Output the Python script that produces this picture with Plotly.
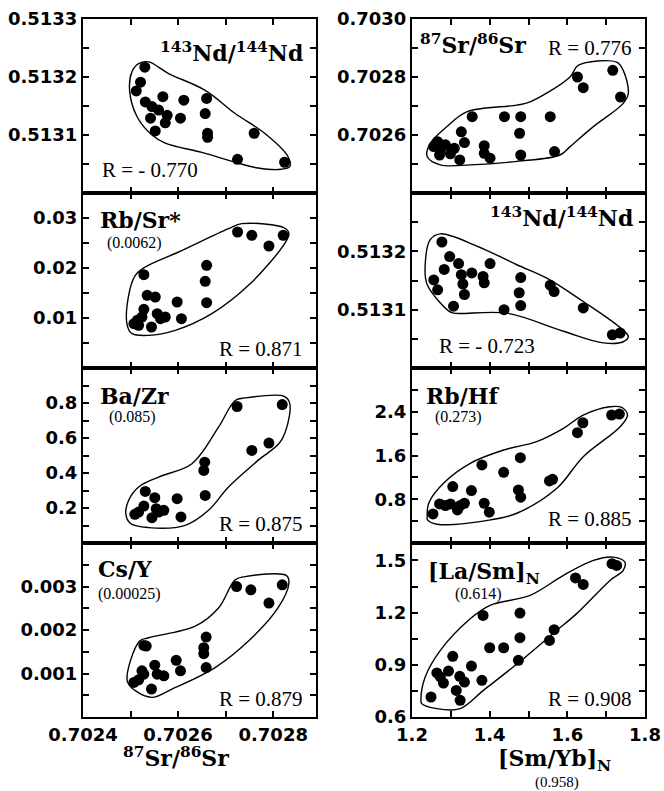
import plotly.graph_objects as go

W, H = 664, 791

# ---------------- Left column (x = 87Sr/86Sr) ----------------
# Panel L1: 143Nd/144Nd
l1_x = [0.70253, 0.702521, 0.702512, 0.702531, 0.702545, 0.702568, 0.702612, 0.70266, 0.702559, 0.702577,
        0.702542, 0.702573, 0.702605, 0.702657, 0.702552, 0.702662, 0.702662, 0.70276, 0.702725, 0.702824]
l1_y = [0.513217, 0.513191, 0.513176, 0.513157, 0.513149, 0.513166, 0.51316, 0.513163, 0.513143, 0.513134,
        0.513129, 0.513121, 0.513129, 0.513137, 0.513107, 0.513103, 0.513096, 0.513103, 0.513058, 0.513053]
l1_env_x = [0.702517, 0.702538, 0.70258, 0.702657, 0.70272, 0.702782, 0.702831, 0.702835, 0.702817, 0.702768,
            0.70272, 0.70265, 0.702573, 0.702545, 0.702514, 0.702498, 0.702503, 0.702517]
l1_env_y = [0.513223, 0.513226, 0.513206, 0.513177, 0.513137, 0.513103, 0.513063, 0.513046, 0.513041, 0.513043,
            0.513053, 0.51307, 0.513086, 0.5131, 0.513131, 0.513177, 0.513209, 0.513223]

# Panel L2: Rb/Sr*
l2_x = [0.702528, 0.702535, 0.702552, 0.702528, 0.702507, 0.702514, 0.702524, 0.702544, 0.702556, 0.702563,
        0.702573, 0.702598, 0.702607, 0.70266, 0.702657, 0.70266, 0.702725, 0.702755, 0.702791, 0.702821, 0.702517]
l2_y = [0.01867, 0.01453, 0.0142, 0.01173, 0.00887, 0.00953, 0.0102, 0.0082, 0.01087, 0.00987,
        0.0102, 0.0132, 0.00987, 0.02053, 0.01733, 0.01307, 0.0272, 0.02653, 0.0244, 0.02653, 0.00853]
l2_env_x = [0.70251, 0.702531, 0.702601, 0.702706, 0.702734, 0.702824, 0.702833, 0.702824, 0.702748, 0.702671,
            0.702594, 0.702538, 0.702503, 0.702493, 0.702496, 0.70251]
l2_env_y = [0.01853, 0.0202, 0.0232, 0.02787, 0.02887, 0.028, 0.02687, 0.02487, 0.01653, 0.01087,
            0.00753, 0.00653, 0.00687, 0.00853, 0.01453, 0.01853]

# Panel L3: Ba/Zr
l3_x = [0.702531, 0.702551, 0.702528, 0.702509, 0.702517, 0.702545, 0.702554, 0.70257, 0.702559, 0.702598,
        0.702606, 0.702656, 0.702654, 0.702657, 0.702724, 0.702819, 0.702755, 0.702791]
l3_y = [0.295, 0.259, 0.211, 0.164, 0.177, 0.145, 0.196, 0.187, 0.177, 0.253,
        0.149, 0.462, 0.415, 0.272, 0.78, 0.791, 0.529, 0.571]
l3_env_x = [0.702496, 0.702517, 0.702559, 0.702629, 0.702685, 0.70272, 0.702741, 0.702824, 0.702835, 0.702817,
            0.702768, 0.702706, 0.702664, 0.702615, 0.702538, 0.7025, 0.70249, 0.702496]
l3_env_y = [0.244, 0.32, 0.377, 0.453, 0.662, 0.814, 0.829, 0.837, 0.795, 0.586,
            0.472, 0.32, 0.187, 0.101, 0.088, 0.111, 0.168, 0.244]

# Panel L4: Cs/Y
l4_x = [0.702528, 0.702533, 0.702524, 0.702528, 0.702507, 0.702517, 0.702551, 0.702556, 0.70257, 0.702544,
        0.702596, 0.702605, 0.702659, 0.702654, 0.702654, 0.702659, 0.702723, 0.702753, 0.702819, 0.702791]
l4_y = [0.001646, 0.001631, 0.001061, 0.000985, 0.000795, 0.000856, 0.00119, 0.000985, 0.000947, 0.000643,
        0.001304, 0.001061, 0.001837, 0.001593, 0.001456, 0.001137, 0.002999, 0.002924, 0.003038, 0.00262]
l4_env_x = [0.702493, 0.702519, 0.702538, 0.702636, 0.702685, 0.70272, 0.702741, 0.702828, 0.702833, 0.70281,
            0.702748, 0.702678, 0.702587, 0.702545, 0.70251, 0.702493]
l4_env_y = [0.000833, 0.001745, 0.001821, 0.002087, 0.002506, 0.003152, 0.003228, 0.003251, 0.003076, 0.002506,
            0.001745, 0.001137, 0.000643, 0.000452, 0.000605, 0.000833]

# ---------------- Right column (x = [Sm/Yb]N) ----------------
# Panel R1: 87Sr/86Sr
r1_x = [1.266, 1.256, 1.273, 1.286, 1.299, 1.309, 1.323, 1.327, 1.335, 1.355, 1.386, 1.386,
        1.401, 1.438, 1.48, 1.477, 1.48, 1.556, 1.567, 1.626, 1.641, 1.717, 1.737, 1.271]
r1_y = [0.702577, 0.70256, 0.702549, 0.702566, 0.702535, 0.702554, 0.702514, 0.702611, 0.702574, 0.702663,
        0.702563, 0.702537, 0.70252, 0.702663, 0.702663, 0.702606, 0.702531, 0.702663, 0.702543, 0.7028,
        0.702763, 0.702823, 0.702731, 0.702531]
r1_env_x = [1.239, 1.247, 1.29, 1.341, 1.47, 1.504, 1.607, 1.628, 1.727, 1.744, 1.757, 1.744,
            1.667, 1.607, 1.581, 1.47, 1.35, 1.273, 1.239]
r1_env_y = [0.702526, 0.702571, 0.702629, 0.70268, 0.702703, 0.702714, 0.7028, 0.70284, 0.702851, 0.702823,
            0.702743, 0.702709, 0.702629, 0.70256, 0.702531, 0.702509, 0.702497, 0.702497, 0.702526]

# Panel R2: 143Nd/144Nd
r2_x = [1.277, 1.297, 1.283, 1.256, 1.266, 1.32, 1.327, 1.331, 1.335, 1.354, 1.383, 1.386,
        1.401, 1.307, 1.437, 1.48, 1.476, 1.48, 1.556, 1.566, 1.641, 1.716, 1.736]
r2_y = [0.513216, 0.513191, 0.513169, 0.513151, 0.513134, 0.513179, 0.51316, 0.513144, 0.513126, 0.513163,
        0.513157, 0.513146, 0.513179, 0.513106, 0.5131, 0.513155, 0.513129, 0.513107, 0.513142, 0.513131,
        0.513103, 0.513057, 0.51306]
r2_env_x = [1.247, 1.273, 1.367, 1.47, 1.547, 1.641, 1.727, 1.757, 1.744, 1.693, 1.59, 1.444,
            1.307, 1.294, 1.239, 1.234, 1.247]
r2_env_y = [0.51322, 0.51323, 0.513209, 0.513177, 0.513154, 0.513114, 0.513074, 0.513054, 0.513045, 0.513043,
            0.513063, 0.513094, 0.513094, 0.513098, 0.513143, 0.513177, 0.51322]

# Panel R3: Rb/Hf
r3_x = [1.254, 1.271, 1.286, 1.299, 1.317, 1.324, 1.335, 1.305, 1.353, 1.38, 1.386, 1.399,
        1.436, 1.479, 1.474, 1.48, 1.554, 1.562, 1.626, 1.64, 1.714, 1.734]
r3_y = [0.532, 0.715, 0.684, 0.715, 0.605, 0.684, 0.727, 1.031, 0.958, 1.427, 0.727, 0.563,
        1.293, 1.56, 0.97, 0.837, 1.135, 1.165, 2.017, 2.199, 2.339, 2.358]
r3_env_x = [1.239, 1.243, 1.281, 1.35, 1.436, 1.521, 1.59, 1.641, 1.71, 1.74, 1.755, 1.736,
            1.641, 1.573, 1.47, 1.402, 1.264, 1.24, 1.239]
r3_env_y = [0.484, 0.727, 1.092, 1.457, 1.7, 1.853, 2.096, 2.339, 2.491, 2.479, 2.339, 2.126,
            1.579, 1.0, 0.544, 0.423, 0.344, 0.423, 0.484]

# Panel R4: [La/Sm]N
r4_x = [1.249, 1.264, 1.273, 1.281, 1.294, 1.305, 1.314, 1.324, 1.323, 1.335, 1.353, 1.38,
        1.383, 1.4, 1.436, 1.474, 1.478, 1.478, 1.554, 1.566, 1.621, 1.641, 1.715, 1.727]
r4_y = [0.715, 0.853, 0.83, 0.795, 0.864, 0.949, 0.753, 0.696, 0.834, 0.801, 0.893, 0.811,
        1.184, 0.998, 0.998, 0.926, 1.056, 1.197, 1.04, 1.102, 1.399, 1.362, 1.481, 1.471]
r4_env_x = [1.223, 1.234, 1.273, 1.35, 1.401, 1.504, 1.59, 1.667, 1.718, 1.748, 1.744, 1.71,
            1.624, 1.573, 1.487, 1.384, 1.324, 1.264, 1.225, 1.223]
r4_env_y = [0.705, 0.83, 0.983, 1.165, 1.242, 1.299, 1.414, 1.5, 1.519, 1.491, 1.443, 1.385,
            1.194, 1.098, 0.935, 0.753, 0.648, 0.648, 0.677, 0.705]

# ---------------- Axis ticks ----------------
left_x_range = [0.70240, 0.70289]
left_x_ticks = [0.7024, 0.7025, 0.7026, 0.7027, 0.7028]
left_x_labels = ["0.7024", "", "0.7026", "", "0.7028"]
right_x_range = [1.2, 1.8]
right_x_ticks = [1.2, 1.3, 1.4, 1.5, 1.6, 1.7, 1.8]
right_x_labels = ["1.2", "", "1.4", "", "1.6", "", "1.8"]

l1_yr, l1_yt, l1_yl = [0.5130, 0.5133], [0.51305, 0.5131, 0.51315, 0.5132, 0.51325, 0.5133], ["", "0.5131", "", "0.5132", "", "0.5133"]
l2_yr, l2_yt, l2_yl = [0, 0.035], [0.005, 0.01, 0.015, 0.02, 0.025, 0.03], ["", "0.01", "", "0.02", "", "0.03"]
l3_yr, l3_yt, l3_yl = [0, 1.0], [0.1, 0.2, 0.3, 0.4, 0.5, 0.6, 0.7, 0.8, 0.9], ["", "0.2", "", "0.4", "", "0.6", "", "0.8", ""]
l4_yr, l4_yt, l4_yl = [0, 0.004], [0.0005, 0.001, 0.0015, 0.002, 0.0025, 0.003, 0.0035], ["", "0.001", "", "0.002", "", "0.003", ""]
r1_yr, r1_yt, r1_yl = [0.7024, 0.7030], [0.7025, 0.7026, 0.7027, 0.7028, 0.7029, 0.7030], ["", "0.7026", "", "0.7028", "", "0.7030"]
r2_yr, r2_yt, r2_yl = [0.5130, 0.5133], [0.51305, 0.5131, 0.51315, 0.5132, 0.51325], ["", "0.5131", "", "0.5132", ""]
r3_yr, r3_yt, r3_yl = [0, 3.2], [0.4, 0.8, 1.2, 1.6, 2.0, 2.4, 2.8], ["", "0.8", "", "1.6", "", "2.4", ""]
r4_yr, r4_yt, r4_yl = [0.6, 1.6], [0.6, 0.75, 0.9, 1.05, 1.2, 1.35, 1.5], ["0.6", "", "0.9", "", "1.2", "", "1.5"]

panels = [
    (l1_x, l1_y, l1_env_x, l1_env_y, 0, 0, l1_yr, l1_yt, l1_yl),
    (r1_x, r1_y, r1_env_x, r1_env_y, 1, 0, r1_yr, r1_yt, r1_yl),
    (l2_x, l2_y, l2_env_x, l2_env_y, 0, 1, l2_yr, l2_yt, l2_yl),
    (r2_x, r2_y, r2_env_x, r2_env_y, 1, 1, r2_yr, r2_yt, r2_yl),
    (l3_x, l3_y, l3_env_x, l3_env_y, 0, 2, l3_yr, l3_yt, l3_yl),
    (r3_x, r3_y, r3_env_x, r3_env_y, 1, 2, r3_yr, r3_yt, r3_yl),
    (l4_x, l4_y, l4_env_x, l4_env_y, 0, 3, l4_yr, l4_yt, l4_yl),
    (r4_x, r4_y, r4_env_x, r4_env_y, 1, 3, r4_yr, r4_yt, r4_yl),
]

col_px = [(83, 316), (412, 645)]
row_px = [19, 193, 368, 543, 717]

tick_font = dict(family="DejaVu Sans", size=18, color="black", weight="bold")

fig = go.Figure()
layout = {}
for k, (px_, py_, ex, ey, col, row, yr, yt, yl) in enumerate(panels, start=1):
    xa = "x" if k == 1 else f"x{k}"
    ya = "y" if k == 1 else f"y{k}"
    fig.add_trace(go.Scatter(x=ex, y=ey, xaxis=xa, yaxis=ya, mode="lines",
                             line=dict(color="black", width=1.4, shape="spline", smoothing=1.0),
                             hoverinfo="skip", showlegend=False))
    fig.add_trace(go.Scatter(x=px_, y=py_, xaxis=xa, yaxis=ya, mode="markers",
                             marker=dict(color="black", size=11), showlegend=False))
    x0, x1 = col_px[col]
    ytop, ybot = row_px[row], row_px[row + 1]
    bottom = (row == 3)
    if col == 0:
        xr, xt, xl = left_x_range, left_x_ticks, left_x_labels
    else:
        xr, xt, xl = right_x_range, right_x_ticks, right_x_labels
    layout["xaxis" if k == 1 else f"xaxis{k}"] = dict(
        domain=[x0 / W, x1 / W], anchor=ya, range=xr, tickmode="array", tickvals=xt,
        ticktext=xl if bottom else [""] * len(xt), showticklabels=bottom, automargin=False,
        ticks="inside", ticklen=6, tickwidth=1.6, tickcolor="black",
        showline=True, linewidth=2, linecolor="black", mirror="ticks",
        showgrid=False, zeroline=False, tickfont=tick_font)
    layout["yaxis" if k == 1 else f"yaxis{k}"] = dict(
        domain=[1 - ybot / H, 1 - ytop / H], anchor=xa, range=yr, tickmode="array",
        tickvals=yt, ticktext=yl, ticks="inside", ticklen=6, tickwidth=1.6, tickcolor="black",
        showline=True, linewidth=2, linecolor="black", mirror="ticks", automargin=False,
        showgrid=False, zeroline=False, tickfont=tick_font)

BOLD = "DejaVu Serif"
REG = "Liberation Serif"


def ann(text, x, y, xanchor, size=22, family=BOLD, bold=True):
    t = f"<b>{text}</b>" if bold else text
    return dict(text=t, x=x / W, y=1 - y / H, xref="paper", yref="paper",
                xanchor=xanchor, yanchor="middle", showarrow=False,
                font=dict(family=family, size=size, color="black"))


annotations = [
    # left column
    ann("<sup>143</sup>Nd/<sup>144</sup>Nd", 305, 52, "right"),
    ann("R = - 0.770", 100, 170, "left", size=21, family=REG, bold=False),
    ann("Rb/Sr*", 98, 220, "left"),
    ann("(0.0062)", 134, 243, "center", size=16, family=REG, bold=False),
    ann("R = 0.871", 305, 349, "right", size=21, family=REG, bold=False),
    ann("Ba/Zr", 98, 396, "left"),
    ann("(0.085)", 132, 417, "center", size=16, family=REG, bold=False),
    ann("R = 0.875", 305, 524, "right", size=21, family=REG, bold=False),
    ann("Cs/Y", 96, 569, "left"),
    ann("(0.00025)", 96, 594, "left", size=16, family=REG, bold=False),
    ann("R = 0.879", 305, 699, "right", size=21, family=REG, bold=False),
    ann("<sup>87</sup>Sr/<sup>86</sup>Sr", 176, 757, "center"),
    # right column
    ann("<sup>87</sup>Sr/<sup>86</sup>Sr", 418, 44, "left"),
    ann("R = 0.776", 634, 48, "right", size=21, family=REG, bold=False),
    ann("<sup>143</sup>Nd/<sup>144</sup>Nd", 635, 217, "right"),
    ann("R = - 0.723", 437, 346, "left", size=21, family=REG, bold=False),
    ann("Rb/Hf", 424, 396, "left"),
    ann("(0.273)", 458, 417, "center", size=16, family=REG, bold=False),
    ann("R = 0.885", 634, 519, "right", size=21, family=REG, bold=False),
    ann("[La/Sm]<sub>N</sub>", 426, 573, "left"),
    ann("(0.614)", 478, 594, "center", size=16, family=REG, bold=False),
    ann("R = 0.908", 634, 699, "right", size=21, family=REG, bold=False),
    ann("[Sm/Yb]<sub>N</sub>", 554, 760, "center"),
    ann("(0.958)", 557, 782, "center", size=15, family=REG, bold=False),
]

fig.update_layout(width=W, height=H, autosize=False, margin=dict(l=0, r=0, t=0, b=0),
                  paper_bgcolor="white", plot_bgcolor="white", showlegend=False,
                  annotations=annotations, **layout)
fig.write_html("out.html")
